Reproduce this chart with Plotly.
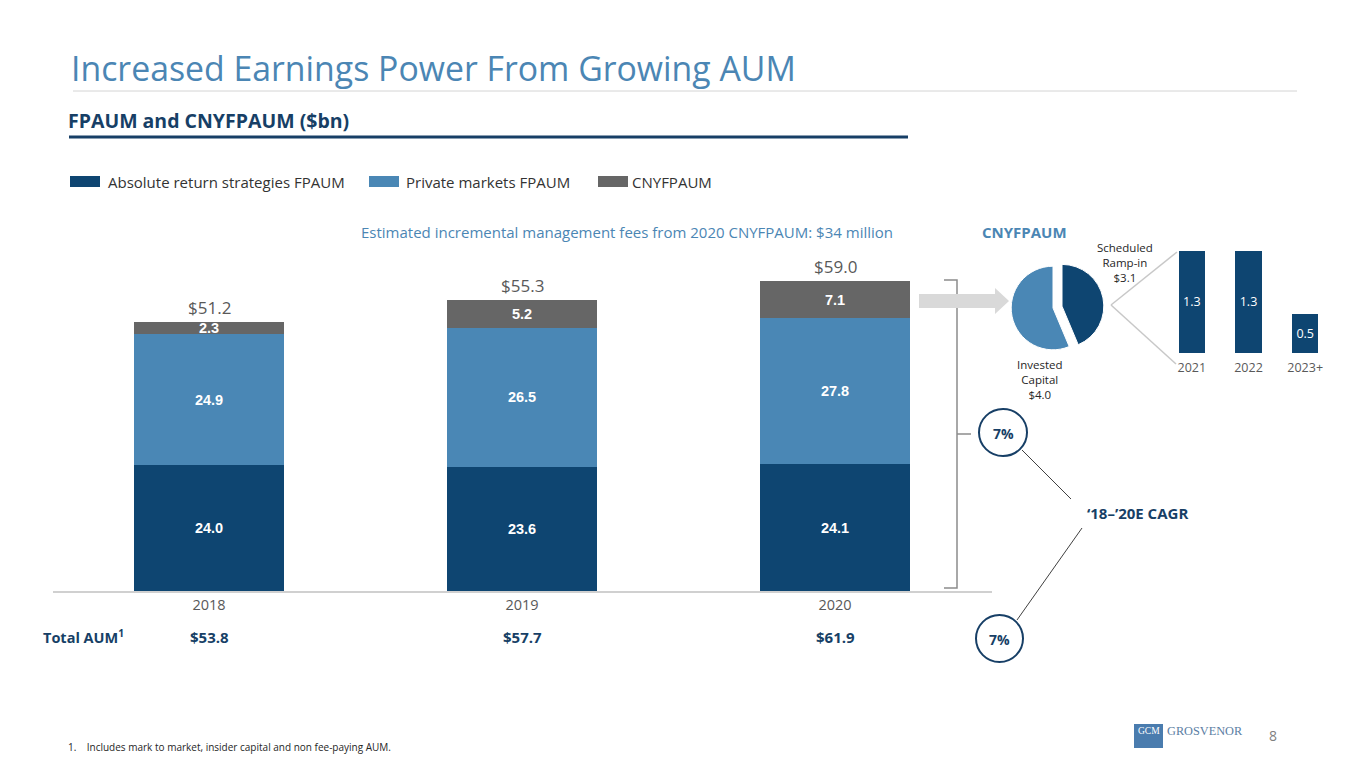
import plotly.graph_objects as go

# main stacked bars ($bn)
years = ["2018", "2019", "2020"]
abs_return = [24.0, 23.6, 24.1]
private_mkts = [24.9, 26.5, 27.8]
cnyfpaum = [2.3, 5.2, 7.1]
total_aum = ["$53.8", "$57.7", "$61.9"]

# CNYFPAUM split (pie) and ramp-in schedule (small bars)
pie_labels = ["Scheduled Ramp-in", "Invested Capital"]
pie_values = [3.1, 4.0]
ramp_years = ["2021", "2022", "2023+"]
ramp_values = [1.3, 1.3, 0.5]

NAVY = "#0e4571"
MID = "#4a87b5"
GRAY = "#666666"
TITLE_BLUE = "#4b86b4"
TEXT_NAVY = "#173f66"
FONT = "Open Sans"

W, H = 1365, 768
OFF = 8  # page body margin


def X(px):
    return (px - OFF) / W


def Y(py):
    return 1 - (py - OFF) / H


totals = [round(a + b + c, 1) for a, b, c in zip(abs_return, private_mkts, cnyfpaum)]

fig = go.Figure()

seg_font = dict(family="Liberation Sans", size=14.5, color="white")
for name, vals, col in [("Absolute return strategies FPAUM", abs_return, NAVY),
                        ("Private markets FPAUM", private_mkts, MID),
                        ("CNYFPAUM", cnyfpaum, GRAY)]:
    fig.add_trace(go.Bar(
        x=years, y=vals, name=name, marker_color=col, marker_line_width=0,
        width=0.479, text=[f"<b>{v:.1f}</b>" for v in vals],
        textposition="inside", insidetextanchor="middle", constraintext="none",
        textfont=seg_font, showlegend=False, xaxis="x", yaxis="y",
    ))

# totals on top of each stack
for i, t in enumerate(totals):
    fig.add_annotation(text=f"${t:.1f}", x=i, y=t, xref="x", yref="y",
                       xanchor="center", yanchor="bottom", yshift=1, showarrow=False,
                       font=dict(family=FONT, size=17, color="#595959"))

fig.add_trace(go.Bar(
    x=ramp_years, y=ramp_values, marker_color=NAVY, marker_line_width=0, width=0.47,
    text=[f"{v:.1f}" for v in ramp_values], textposition="inside",
    insidetextanchor="middle", constraintext="none",
    textfont=dict(family=FONT, size=12.5, color="white"),
    showlegend=False, xaxis="x2", yaxis="y2",
))

fig.add_trace(go.Pie(
    labels=pie_labels, values=pie_values, sort=False, direction="clockwise",
    rotation=0, pull=[0.22, 0], textinfo="none", hoverinfo="label+value",
    marker=dict(colors=[NAVY, MID], line=dict(color="white", width=1)),
    domain=dict(x=[X(1002), X(1104)], y=[Y(359), Y(257)]),
    showlegend=False,
))

shapes = [
    # title rule and section underline
    dict(type="line", x0=X(73), x1=X(1297), y0=Y(91), y1=Y(91),
         line=dict(color="#d4d4d4", width=1)),
    dict(type="line", x0=X(69), x1=X(908), y0=Y(137), y1=Y(137),
         line=dict(color=TEXT_NAVY, width=3)),
    # legend swatches
    dict(type="rect", x0=X(70), x1=X(100), y0=Y(187), y1=Y(176), fillcolor=NAVY, line_width=0),
    dict(type="rect", x0=X(369), x1=X(399), y0=Y(187), y1=Y(176), fillcolor=MID, line_width=0),
    dict(type="rect", x0=X(598), x1=X(628), y0=Y(187), y1=Y(176), fillcolor=GRAY, line_width=0),
    # bracket
    dict(type="path", path=f"M {X(944)},{Y(280)} L {X(957)},{Y(280)} L {X(957)},{Y(588)} L {X(944)},{Y(588)}",
         line=dict(color="#8c8c8c", width=1.5)),
    dict(type="line", x0=X(957), x1=X(971), y0=Y(434), y1=Y(434),
         line=dict(color="#8c8c8c", width=1.5)),
    # arrow
    dict(type="path",
         path=(f"M {X(919)},{Y(294)} L {X(995)},{Y(294)} L {X(995)},{Y(288)} L {X(1009)},{Y(301)} "
               f"L {X(995)},{Y(314)} L {X(995)},{Y(308)} L {X(919)},{Y(308)} Z"),
         fillcolor="#d9d9d9", line_width=0),
    # pie callout lines
    dict(type="line", x0=X(1111), x1=X(1177), y0=Y(305), y1=Y(252),
         line=dict(color="#c8c8c8", width=1.5)),
    dict(type="line", x0=X(1111), x1=X(1176), y0=Y(305), y1=Y(364),
         line=dict(color="#c8c8c8", width=1.5)),
    # CAGR circles and connectors
    dict(type="circle", x0=X(979), x1=X(1027), y0=Y(456), y1=Y(409),
         line=dict(color=TEXT_NAVY, width=2), fillcolor="white"),
    dict(type="circle", x0=X(976), x1=X(1023), y0=Y(662), y1=Y(615),
         line=dict(color=TEXT_NAVY, width=2), fillcolor="white"),
    dict(type="line", x0=X(1022), x1=X(1071), y0=Y(450), y1=Y(499),
         line=dict(color="#404040", width=1)),
    dict(type="line", x0=X(1082), x1=X(1017), y0=Y(528), y1=Y(620),
         line=dict(color="#404040", width=1)),
    # logo box
    dict(type="rect", x0=X(1134), x1=X(1163), y0=Y(748), y1=Y(724),
         fillcolor="#4a7cae", line_width=0),
]
for s in shapes:
    s["xref"] = "paper"
    s["yref"] = "paper"
fig.update_layout(shapes=shapes)


def note(text, px, py, size=14, color="#333333", anchor="left", bold=False, family=FONT):
    if bold:
        text = f"<b>{text}</b>"
    fig.add_annotation(text=text, x=X(px), y=Y(py), xref="paper", yref="paper",
                       xanchor=anchor, yanchor="middle", showarrow=False,
                       font=dict(family=family, size=size, color=color))


note("Increased Earnings Power From Growing AUM", 69, 68, size=33.8, color=TITLE_BLUE)
note("FPAUM and CNYFPAUM ($bn)", 66, 121, size=19.5, color=TEXT_NAVY, bold=True)
note("Absolute return strategies FPAUM", 106, 182, size=15)
note("Private markets FPAUM", 404, 182, size=15)
note("CNYFPAUM", 630, 182, size=15)
note("Estimated incremental management fees from 2020 CNYFPAUM: $34 million", 895, 232,
     size=15, color=TITLE_BLUE, anchor="right")
note("CNYFPAUM", 980, 232, size=15, color=TITLE_BLUE, bold=True)
note("Scheduled<br>Ramp-in<br>$3.1", 1125, 262, size=11.5, color="#262626", anchor="center")
note("Invested<br>Capital<br>$4.0", 1040, 379, size=11.5, color="#262626", anchor="center")
note("7%", 1003, 433, size=14, color=TEXT_NAVY, anchor="center", bold=True)
note("7%", 999, 639, size=14, color=TEXT_NAVY, anchor="center", bold=True)
note("\u201818\u2013\u201920E CAGR", 1085, 513, size=15, color=TEXT_NAVY, bold=True)
note("Total AUM<sup>1</sup>", 41, 636, size=14.5, color=TEXT_NAVY, bold=True)
note("1.    Includes mark to market, insider capital and non fee-paying AUM.", 66, 747,
     size=10, color="#262626")
note("GCM", 1148.5, 731, size=9.5, color="white", anchor="center", family="Liberation Serif")
note("GROSVENOR", 1165, 731, size=12.3, color="#5b7ea3", family="Liberation Serif")
note("8", 1273, 735, size=14, color="#7f7f7f", anchor="center")

for i, val in enumerate(total_aum):
    fig.add_annotation(text=f"<b>{val}</b>", x=i, y=Y(637), xref="x", yref="paper",
                       xanchor="center", yanchor="middle", showarrow=False,
                       font=dict(family=FONT, size=15, color=TEXT_NAVY))

fig.update_layout(
    width=W, height=H, margin=dict(l=0, r=0, t=0, b=0),
    paper_bgcolor="white", plot_bgcolor="white",
    barmode="stack", font=dict(family=FONT),
    xaxis=dict(domain=[X(52.5), X(991.5)], type="category", range=[-0.5, 2.5],
               showline=True, linecolor="#d0d0d0", linewidth=1.5, ticks="", showgrid=False,
               tickfont=dict(family=FONT, size=14.5, color="#595959"), fixedrange=True),
    yaxis=dict(domain=[Y(591), Y(249.5)], range=[0, 65], visible=False, fixedrange=True),
    xaxis2=dict(domain=[X(1163.5), X(1333.5)], type="category", range=[-0.5, 2.5],
                anchor="y2", showline=False, ticks="", showgrid=False, ticklabelstandoff=5,
                tickfont=dict(family=FONT, size=12.5, color="#595959"), fixedrange=True),
    yaxis2=dict(domain=[Y(353), Y(240)], range=[0, 1.44], visible=False,
                anchor="x2", fixedrange=True),
)

fig.write_html("out.html")
